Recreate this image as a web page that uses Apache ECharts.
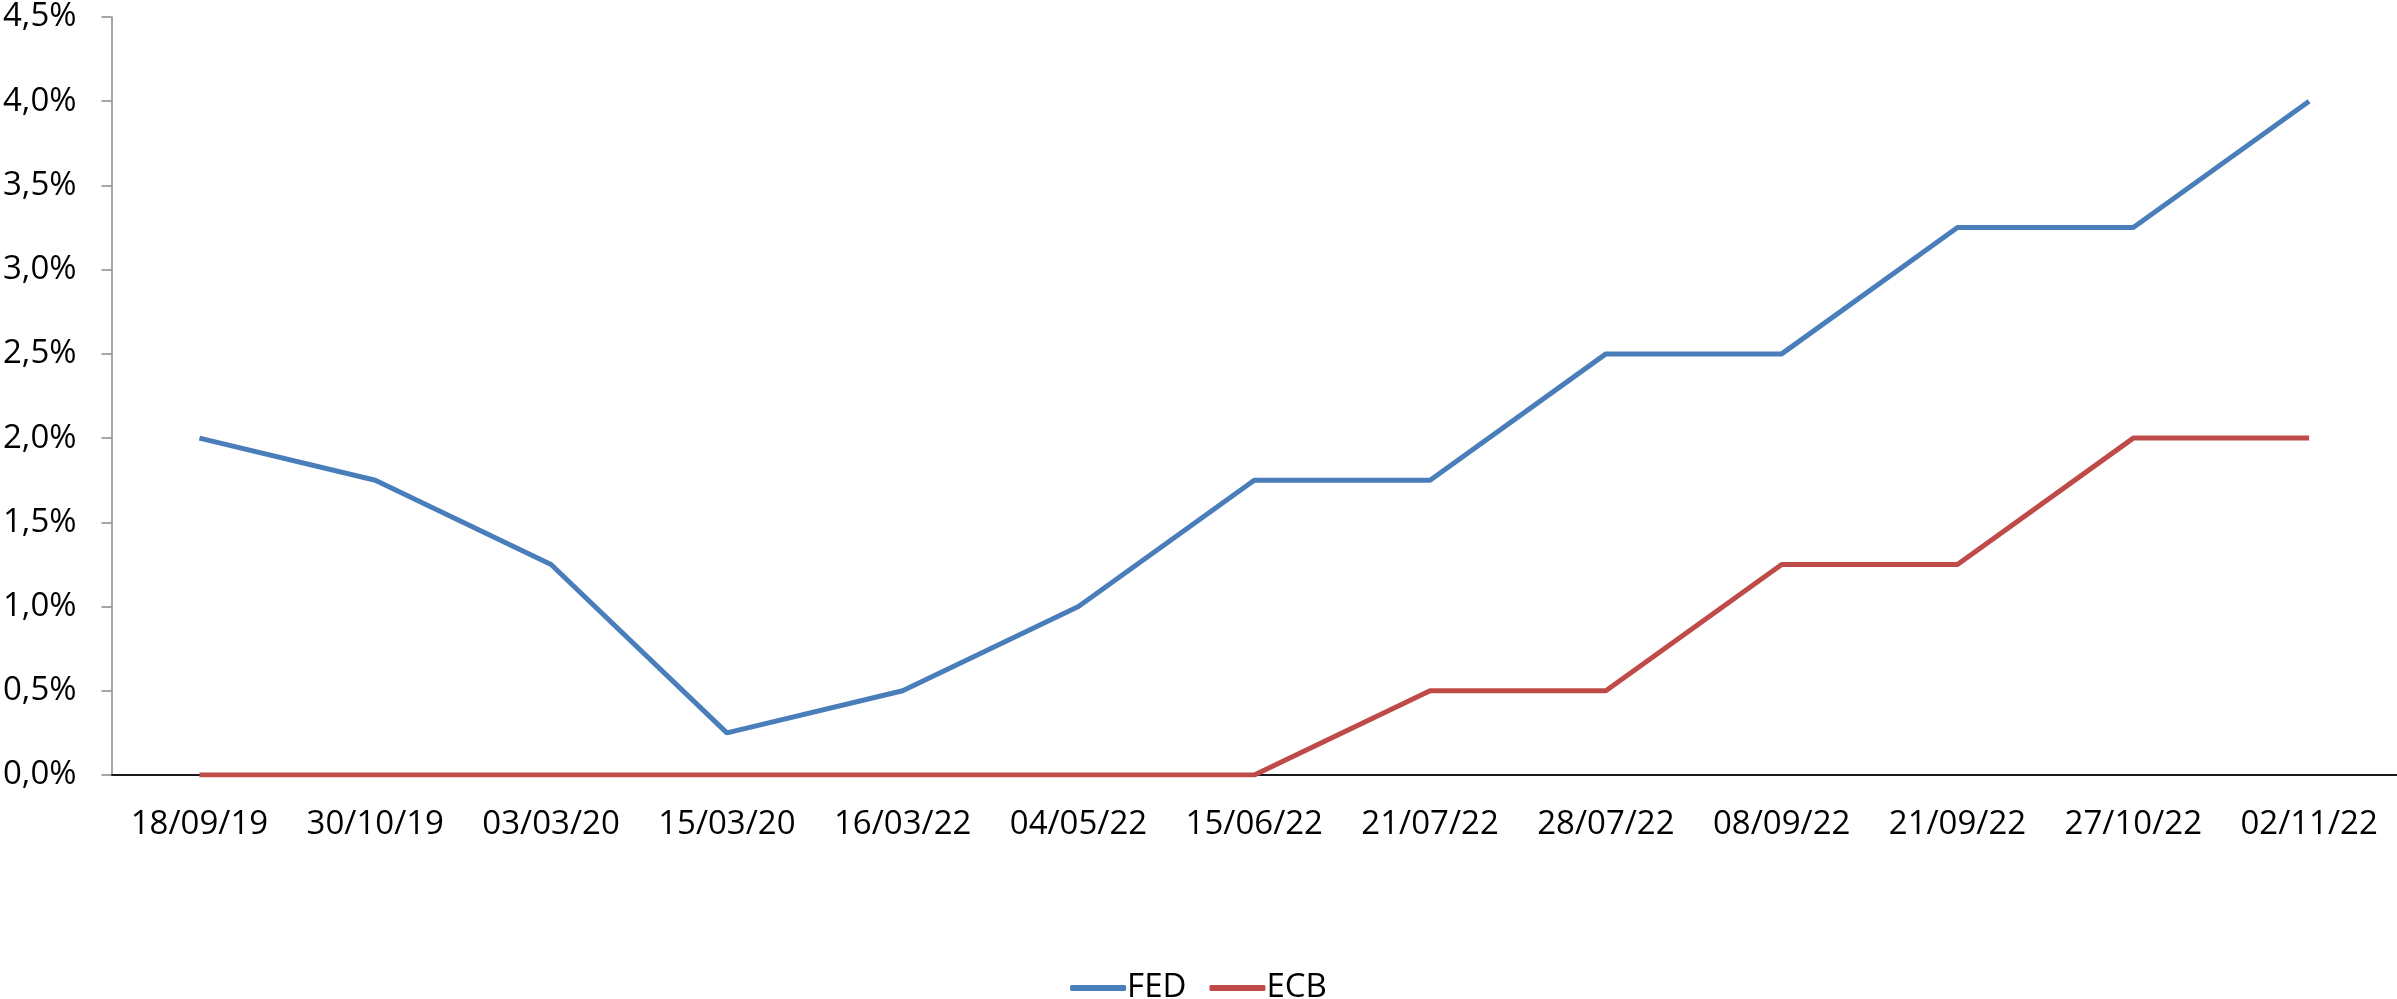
<!DOCTYPE html>
<html lang="en">
<head>
    <meta charset="UTF-8">
    <title>FED vs ECB</title>
    <script src="https://cdn.jsdelivr.net/npm/echarts@6/dist/echarts.min.js"></script>
    <style>
        html, body { margin: 0; padding: 0; background: #fff; }
        #chart { width: 2397px; height: 999px; }
    </style>
</head>
<body>
<div id="chart"></div>
<script>
    // dates of the rate decisions
    var dates = ['18/09/19', '30/10/19', '03/03/20', '15/03/20', '16/03/22', '04/05/22', '15/06/22',
        '21/07/22', '28/07/22', '08/09/22', '21/09/22', '27/10/22', '02/11/22'];
    // rates in %
    var fed = [2.0, 1.75, 1.25, 0.25, 0.5, 1.0, 1.75, 1.75, 2.5, 2.5, 3.25, 3.25, 4.0];
    var ecb = [0, 0, 0, 0, 0, 0, 0, 0.5, 0.5, 1.25, 1.25, 2.0, 2.0];

    var font = '"Open Sans", "Noto Sans", sans-serif';

    var myChart = echarts.init(document.getElementById('chart'));
    myChart.setOption({
        animation: false,
        backgroundColor: '#fff',
        textStyle: { fontFamily: font },
        grid: { left: 110, right: 0, top: 17, bottom: 224, containLabel: false },
        legend: {
            bottom: 0,
            top: 966,
            left: 'center',
            itemWidth: 56,
            itemHeight: 6,
            itemGap: 23,
            icon: 'roundRect',
            textStyle: { fontSize: 33, color: '#000', fontFamily: font, lineHeight: 34, padding: [0, 0, 0, -4] },
            data: ['FED', 'ECB']
        },
        xAxis: {
            type: 'category',
            data: dates,
            boundaryGap: true,
            axisLine: { lineStyle: { color: '#1a1a1a', width: 2 } },
            axisTick: { show: false },
            axisLabel: { fontSize: 33, color: '#000', margin: 30, lineHeight: 40, interval: 0, fontFamily: font },
            splitLine: { show: false }
        },
        yAxis: {
            type: 'value',
            min: 0,
            max: 4.5,
            interval: 0.5,
            axisLine: { show: true, lineStyle: { color: '#888', width: 1.5 } },
            axisTick: { show: true, length: 10, lineStyle: { color: '#888', width: 1.5 } },
            axisLabel: {
                fontSize: 33, color: '#000', margin: 35, fontFamily: font,
                formatter: function (v) { return v.toFixed(1).replace('.', ',') + '%'; }
            },
            splitLine: { show: false }
        },
        series: [
            {
                name: 'FED', type: 'line', data: fed, symbol: 'none',
                lineStyle: { color: '#4A7EBB', width: 5 }, itemStyle: { color: '#4A7EBB' }
            },
            {
                name: 'ECB', type: 'line', data: ecb, symbol: 'none',
                lineStyle: { color: '#BE4B48', width: 5 }, itemStyle: { color: '#BE4B48' }
            }
        ]
    });
</script>
</body>
</html>
